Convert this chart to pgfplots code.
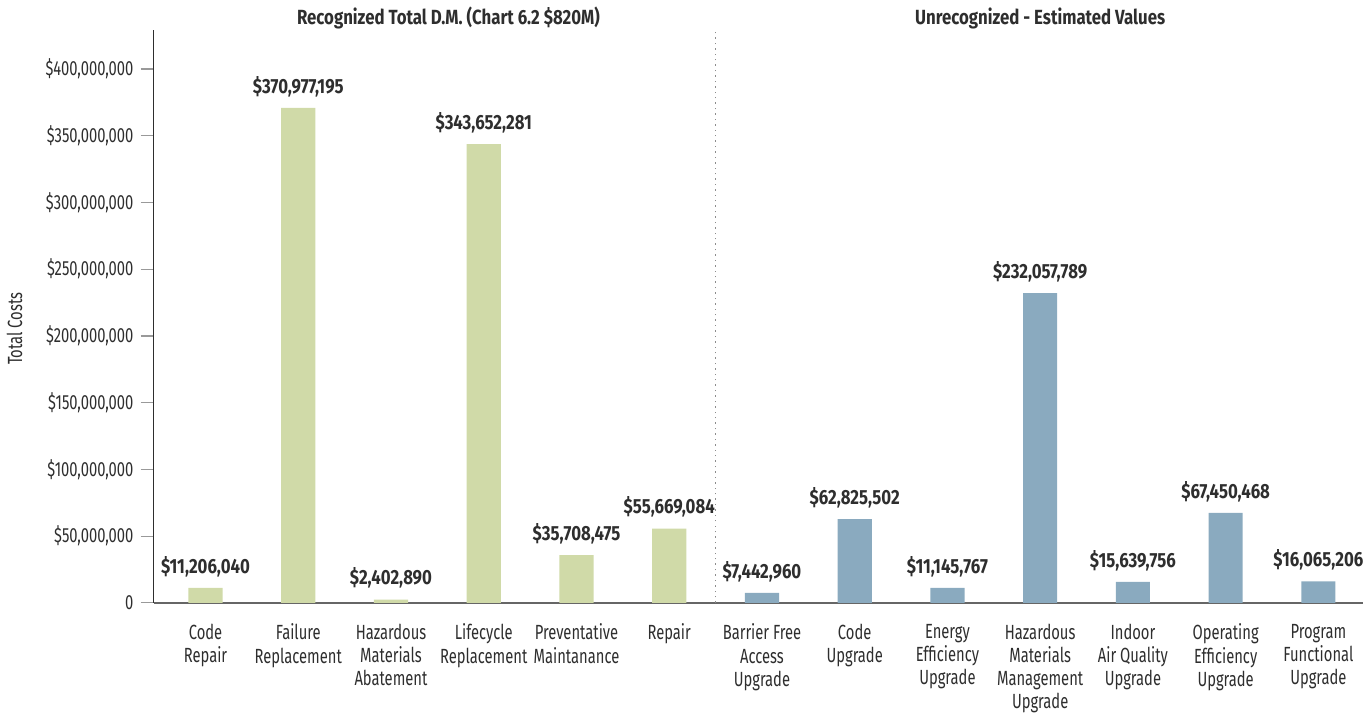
\documentclass[border=0pt]{standalone}
\usepackage{fontspec}
\setmainfont{Fira Sans}[FakeStretch=0.72, BoldFeatures={FakeStretch=0.82}]
\usepackage{pgfplots}
\pgfplotsset{compat=1.18}
\definecolor{recog}{HTML}{D0DAA8}
\definecolor{unrec}{HTML}{8AAABF}
\definecolor{txt}{HTML}{2E2E2E}
\newcommand{\lblfont}{\fontsize{10.2}{11.5}\selectfont}
\begin{document}
\begin{tikzpicture}
\begin{axis}[
    scale only axis,
    width=602pt, height=285pt,
    xmin=-0.56, xmax=12.48,
    ymin=0, ymax=429000000,
    axis x line*=bottom, axis y line*=left,
    x axis line style={draw=black!60, line width=1.1pt},
    y axis line style={draw=txt, line width=0.8pt},
    ybar, bar width=17pt, bar shift=0pt,
    xtick={0,1,2,3,4,5,6,7,8,9,10,11,12},
    xticklabels={{Code\\Repair},{Failure\\Replacement},{Hazardous\\Materials\\Abatement},{Lifecycle\\Replacement},{Preventative\\Maintanance},{Repair},{Barrier Free\\Access\\Upgrade},{Code\\Upgrade},{Energy\\Efficiency\\Upgrade},{Hazardous\\Materials\\Management\\Upgrade},{Indoor\\Air Quality\\Upgrade},{Operating\\Efficiency\\Upgrade},{Program\\Functional\\Upgrade}},
    xticklabel style={align=center, font=\lblfont, text=txt, anchor=north, yshift=-0.5pt},
    major x tick style={draw=none},
    scaled y ticks=false,
    ytick={0,50000000,100000000,150000000,200000000,250000000,300000000,350000000,400000000},
    yticklabels={0,{\$50,000,000},{\$100,000,000},{\$150,000,000},{\$200,000,000},{\$250,000,000},{\$300,000,000},{\$350,000,000},{\$400,000,000}},
    yticklabel style={font=\lblfont, text=txt},
    tick align=outside, major tick length=6.5pt,
    major y tick style={draw=black!40, line width=0.6pt},
    ylabel={Total Costs},
    ylabel style={font=\lblfont, text=txt},
    y label style={at={(axis description cs:-0.115,0.479)}, anchor=center},
    point meta=explicit symbolic,
    nodes near coords={\pgfplotspointmeta},
    nodes near coords style={font=\bfseries\lblfont, text=txt, anchor=south, yshift=2pt},
    clip=false,
]
% Recognized
\addplot[fill=recog, draw=none] coordinates {
    (0,11206040) [\$11,206,040]
    (1,370977195) [\$370,977,195]
    (2,2402890) [\$2,402,890]
    (3,343652281) [\$343,652,281]
    (4,35708475) [\$35,708,475]
    (5,55669084) [\$55,669,084]
};
% Unrecognized
\addplot[fill=unrec, draw=none] coordinates {
    (6,7442960) [\$7,442,960]
    (7,62825502) [\$62,825,502]
    (8,11145767) [\$11,145,767]
    (9,232057789) [\$232,057,789]
    (10,15639756) [\$15,639,756]
    (11,67450468) [\$67,450,468]
    (12,16065206) [\$16,065,206]
};
\draw[black!45, dotted, line width=0.7pt] (axis cs:5.5,0) -- (axis cs:5.5,429000000);
\node[anchor=base, font=\bfseries\lblfont, text=txt] at ([yshift=3pt]axis cs:2.62,429000000) {Recognized Total D.M. (Chart 6.2 \$820M)};
\node[anchor=base, font=\bfseries\lblfont, text=txt] at ([yshift=3pt]axis cs:9,429000000) {Unrecognized - Estimated Values};
\end{axis}
\end{tikzpicture}
\end{document}
